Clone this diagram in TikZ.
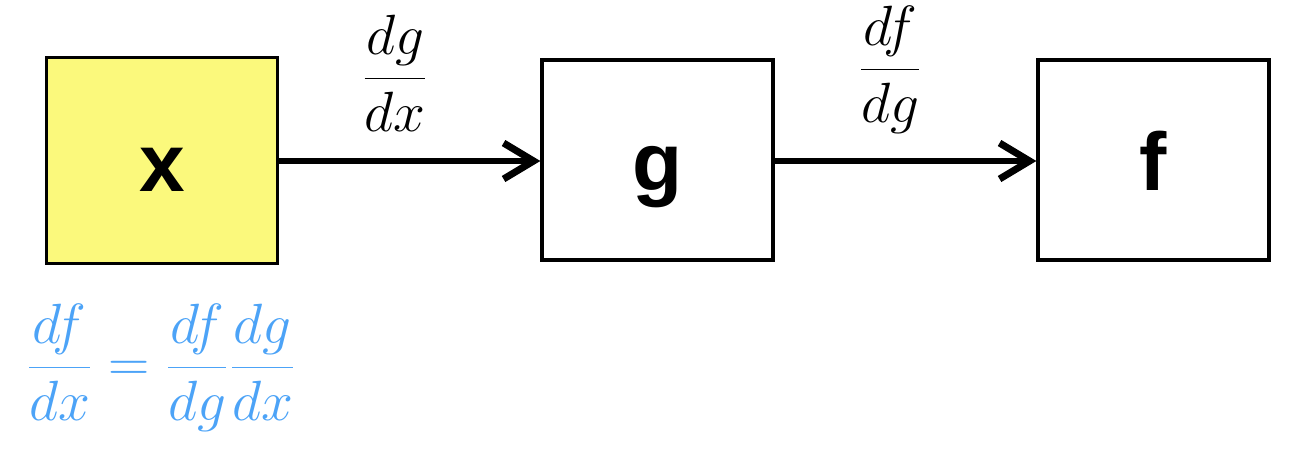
\documentclass[tikz,border=0pt]{standalone}
\usepackage{fontspec}
\setsansfont{Liberation Sans}
\usetikzlibrary{arrows.meta}
\definecolor{boxyellow}{HTML}{FBF97C}
\definecolor{formblue}{HTML}{4CA3F7}
\newcommand{\bigmath}[1]{\scalebox{2.3}[2.28]{\Huge$\displaystyle #1$}}
\tikzset{
  blockbox/.style={draw=black, line width=3.3pt, minimum width=231pt, minimum height=200pt, inner sep=0pt,
    text height=61pt, text depth=0pt,
    font=\fontsize{82}{82}\selectfont\sffamily\bfseries},
  flowarrow/.style={line width=6pt, -{Straight Barb[length=30pt,width=36pt,line width=7pt]}},
  mathlabel/.style={inner sep=0pt}
}
\begin{document}
\begin{tikzpicture}[x=1pt,y=-1pt]
\useasboundingbox (0,0) rectangle (1298,448);
\node[blockbox, fill=boxyellow, minimum height=206pt] (x) at (162,160.5) {x};
\node[blockbox] (g) at (657.5,160) {g};
\node[blockbox] (f) at (1153.5,160) {f};
\draw[flowarrow] (x.east |- 0,161) -- (g.west |- 0,161);
\draw[flowarrow] (g.east |- 0,161) -- (f.west |- 0,161);
\node[mathlabel] (l1) at (395,73) {\bigmath{\frac{dg}{dx}}};
\node[mathlabel] (l2) at (890,70) {\bigmath{\frac{df}{dg}}};
\node[mathlabel, text=formblue] (chain) at (161,368) {\bigmath{\frac{df}{dx}=\frac{df}{dg}\frac{dg}{dx}}};
\end{tikzpicture}
\end{document}
